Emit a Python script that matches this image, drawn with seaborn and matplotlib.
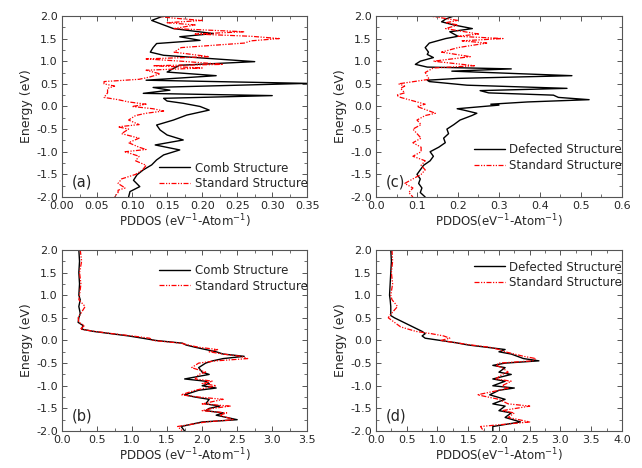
import seaborn as sns
import pandas as pd
import matplotlib.pyplot as plt
from matplotlib.ticker import MultipleLocator

# panel (a): comb vs standard, low range
ea_comb = [2.0, 1.9, 1.83, 1.72, 1.61, 1.54, 1.46, 1.39, 1.3, 1.2, 1.13, 0.99, 0.91, 0.84, 0.76, 0.68,
           0.58, 0.51, 0.42, 0.36, 0.29, 0.24, 0.18, 0.12, 0.07, 0.0, -0.08, -0.19, -0.3, -0.41, -0.52,
           -0.63, -0.74, -0.85, -0.96, -1.07, -1.18, -1.29, -1.4, -1.51, -1.63, -1.77, -1.88, -2.0]
da_comb = [0.145, 0.128, 0.14, 0.159, 0.216, 0.168, 0.197, 0.135, 0.13, 0.126, 0.145, 0.275, 0.168, 0.159,
           0.15, 0.22, 0.12, 0.35, 0.13, 0.154, 0.116, 0.30, 0.145, 0.15, 0.173, 0.197, 0.21, 0.178, 0.159,
           0.135, 0.14, 0.15, 0.173, 0.133, 0.168, 0.145, 0.135, 0.128, 0.116, 0.107, 0.102, 0.111, 0.097, 0.095]
ea_std = [2.0, 1.95, 1.9, 1.85, 1.8, 1.72, 1.65, 1.6, 1.55, 1.5, 1.45, 1.4, 1.3, 1.2, 1.1, 1.05, 1.0, 0.93,
          0.9, 0.85, 0.8, 0.72, 0.65, 0.6, 0.55, 0.5, 0.45, 0.4, 0.3, 0.2, 0.15, 0.1, 0.05, 0.0, -0.05, -0.1,
          -0.15, -0.2, -0.3, -0.4, -0.45, -0.5, -0.6, -0.7, -0.8, -0.9, -0.95, -1.0, -1.1, -1.2, -1.3, -1.4,
          -1.5, -1.6, -1.7, -1.8, -1.85, -1.9, -2.0]
da_std = [0.13, 0.16, 0.20, 0.15, 0.19, 0.16, 0.26, 0.19, 0.27, 0.31, 0.27, 0.26, 0.17, 0.16, 0.21, 0.12,
          0.17, 0.23, 0.13, 0.20, 0.12, 0.14, 0.125, 0.11, 0.06, 0.06, 0.075, 0.065, 0.065, 0.06, 0.08, 0.095,
          0.12, 0.10, 0.13, 0.145, 0.12, 0.105, 0.095, 0.11, 0.08, 0.095, 0.085, 0.11, 0.095, 0.11, 0.12, 0.09,
          0.11, 0.105, 0.12, 0.115, 0.105, 0.085, 0.08, 0.09, 0.08, 0.08, 0.075]

# panel (c): defected vs standard, low range
ec_def = [2.0, 1.93, 1.87, 1.8, 1.72, 1.65, 1.55, 1.5, 1.4, 1.3, 1.2, 1.15, 1.08, 1.0, 0.93, 0.87, 0.83,
          0.78, 0.68, 0.62, 0.58, 0.55, 0.47, 0.4, 0.35, 0.3, 0.25, 0.2, 0.15, 0.1, 0.05, 0.03, -0.05, -0.08,
          -0.15, -0.2, -0.3, -0.4, -0.5, -0.6, -0.7, -0.8, -0.9, -1.0, -1.1, -1.2, -1.3, -1.4, -1.5, -1.6,
          -1.7, -1.8, -1.9, -2.0]
dc_def = [0.19, 0.17, 0.16, 0.19, 0.235, 0.18, 0.20, 0.17, 0.13, 0.12, 0.128, 0.125, 0.14, 0.108, 0.096,
          0.125, 0.33, 0.185, 0.478, 0.20, 0.125, 0.13, 0.222, 0.466, 0.254, 0.275, 0.433, 0.445, 0.52, 0.37,
          0.28, 0.30, 0.198, 0.214, 0.246, 0.234, 0.205, 0.19, 0.173, 0.177, 0.165, 0.169, 0.153, 0.132, 0.14,
          0.132, 0.116, 0.108, 0.10, 0.108, 0.104, 0.112, 0.108, 0.12]
ec_std = [2.0, 1.9, 1.85, 1.8, 1.72, 1.6, 1.55, 1.5, 1.45, 1.4, 1.3, 1.2, 1.1, 1.0, 0.9, 0.85, 0.75, 0.6,
          0.5, 0.45, 0.4, 0.3, 0.25, 0.2, 0.1, 0.05, 0.0, -0.1, -0.15, -0.2, -0.3, -0.4, -0.5, -0.6, -0.7,
          -0.8, -0.9, -1.0, -1.1, -1.2, -1.3, -1.4, -1.5, -1.6, -1.7, -1.8, -1.9, -2.0]
dc_std = [0.13, 0.20, 0.17, 0.20, 0.17, 0.25, 0.20, 0.31, 0.21, 0.27, 0.20, 0.16, 0.23, 0.14, 0.24, 0.14,
          0.12, 0.13, 0.055, 0.07, 0.06, 0.07, 0.05, 0.06, 0.10, 0.12, 0.10, 0.13, 0.145, 0.12, 0.10, 0.11,
          0.09, 0.10, 0.11, 0.09, 0.11, 0.11, 0.09, 0.12, 0.11, 0.12, 0.11, 0.09, 0.07, 0.09, 0.08, 0.09]

# panel (b): comb vs standard, full range
eb = [2.0, 1.75, 1.5, 1.25, 1.0, 0.9, 0.75, 0.6, 0.5, 0.4, 0.33, 0.25, 0.2, 0.15, 0.1, 0.05, 0.0, -0.06,
      -0.1, -0.15, -0.2, -0.25, -0.3, -0.35, -0.4, -0.45, -0.5, -0.6, -0.7, -0.75, -0.85, -0.9, -0.95, -1.0,
      -1.05, -1.1, -1.2, -1.25, -1.3, -1.4, -1.45, -1.5, -1.55, -1.6, -1.65, -1.75, -1.8, -1.9, -2.0]
db_comb = [0.24, 0.25, 0.24, 0.25, 0.24, 0.26, 0.24, 0.26, 0.24, 0.23, 0.30, 0.28, 0.45, 0.70, 0.95, 1.15,
           1.34, 1.72, 1.77, 1.90, 2.05, 2.20, 2.30, 2.60, 2.30, 2.15, 2.05, 1.95, 2.00, 2.10, 1.75, 2.05,
           2.10, 2.00, 2.20, 1.95, 1.75, 1.90, 2.10, 2.05, 2.25, 2.10, 2.05, 2.30, 2.20, 2.50, 2.00, 1.70, 1.75]
db_std = [0.26, 0.28, 0.25, 0.27, 0.25, 0.24, 0.33, 0.27, 0.23, 0.24, 0.32, 0.26, 0.47, 0.72, 1.00, 1.25,
          1.30, 1.70, 1.80, 1.95, 2.22, 2.10, 2.30, 2.55, 2.65, 2.20, 1.95, 1.85, 2.05, 1.95, 1.90, 2.15,
          2.00, 2.20, 2.05, 1.90, 1.70, 1.95, 2.30, 2.00, 2.40, 2.15, 2.00, 2.35, 2.25, 2.45, 2.05, 1.65, 1.72]

# panel (d): defected vs standard, full range
ed = [2.0, 1.75, 1.5, 1.25, 1.0, 0.9, 0.75, 0.55, 0.5, 0.4, 0.3, 0.2, 0.15, 0.1, 0.05, 0.0, -0.05, -0.1,
      -0.15, -0.2, -0.25, -0.3, -0.35, -0.4, -0.45, -0.5, -0.55, -0.6, -0.7, -0.75, -0.85, -0.9, -1.0, -1.05,
      -1.1, -1.2, -1.3, -1.4, -1.45, -1.55, -1.6, -1.7, -1.8, -1.9, -2.0]
dd_def = [0.24, 0.25, 0.24, 0.23, 0.22, 0.23, 0.24, 0.24, 0.30, 0.45, 0.60, 0.75, 0.80, 0.75, 0.80, 1.05,
          1.30, 1.50, 1.80, 2.10, 2.00, 2.20, 2.30, 2.40, 2.65, 2.10, 1.90, 2.10, 2.00, 2.20, 1.90, 2.10,
          1.90, 2.25, 2.00, 1.85, 2.10, 1.90, 2.10, 2.00, 2.20, 2.10, 2.35, 1.90, 1.90]
dd_std = [0.26, 0.27, 0.25, 0.27, 0.24, 0.26, 0.35, 0.22, 0.20, 0.30, 0.40, 0.65, 0.90, 1.10, 1.20, 1.05,
          1.30, 1.55, 1.85, 2.00, 2.10, 2.25, 2.40, 2.60, 2.55, 2.00, 1.95, 2.05, 2.15, 2.05, 1.95, 2.20,
          2.05, 2.15, 2.00, 1.65, 2.00, 2.15, 2.50, 2.05, 2.25, 2.15, 2.50, 1.70, 1.75]

panels = [
    dict(tag="(a)", black=(ea_comb, da_comb), red=(ea_std, da_std), name="Comb Structure",
         xlim=(0, 0.35), major=0.05, minor=0.025, fmt="{:.2f}",
         xlabel="PDDOS (eV$^{-1}$-Atom$^{-1}$)", leg=("lower right", (1.03, 0.0))),
    dict(tag="(c)", black=(ec_def, dc_def), red=(ec_std, dc_std), name="Defected Structure",
         xlim=(0, 0.6), major=0.1, minor=0.05, fmt="{:.1f}",
         xlabel="PDDOS(eV$^{-1}$-Atom$^{-1}$)", leg=("lower right", (1.03, 0.1))),
    dict(tag="(b)", black=(eb, db_comb), red=(eb, db_std), name="Comb Structure",
         xlim=(0, 3.5), major=0.5, minor=0.25, fmt="{:.1f}",
         xlabel="PDDOS (eV$^{-1}$-Atom$^{-1}$)", leg=("upper right", (1.03, 0.96))),
    dict(tag="(d)", black=(ed, dd_def), red=(ed, dd_std), name="Defected Structure",
         xlim=(0, 4.0), major=0.5, minor=0.25, fmt="{:.1f}",
         xlabel="PDDOS(eV$^{-1}$-Atom$^{-1}$)", leg=("upper right", (1.03, 0.98))),
]

sns.set_style("ticks")
plt.rcParams["font.family"] = ["DejaVu Sans"]
plt.rcParams["xtick.direction"] = "in"
plt.rcParams["ytick.direction"] = "in"

fig = plt.figure(figsize=(6.42, 4.68), dpi=100)
boxes = [(0.0966, 0.579, 0.382, 0.387), (0.5857, 0.579, 0.383, 0.387),
         (0.0966, 0.079, 0.382, 0.387), (0.5857, 0.079, 0.383, 0.387)]

for p, box in zip(panels, boxes):
    ax = fig.add_axes(box)
    eb_, db_ = p["black"]
    er_, dr_ = p["red"]
    black = pd.DataFrame({"E": eb_, "D": db_})
    red = pd.DataFrame({"E": er_, "D": dr_})
    sns.lineplot(data=black, x="D", y="E", sort=False, estimator=None, color="black", lw=1.0,
                 label=p["name"], ax=ax)
    sns.lineplot(data=red, x="D", y="E", sort=False, estimator=None, color="red", lw=0.9,
                 label="Standard Structure", ax=ax)
    ax.lines[-1].set_dashes([4, 1.2, 1, 1.2, 1, 1.2])
    ax.set_xlim(*p["xlim"])
    ax.set_ylim(-2, 2)
    ax.xaxis.set_major_locator(MultipleLocator(p["major"]))
    ax.xaxis.set_minor_locator(MultipleLocator(p["minor"]))
    ax.yaxis.set_major_locator(MultipleLocator(0.5))
    ax.yaxis.set_minor_locator(MultipleLocator(0.25))
    ax.xaxis.set_major_formatter(plt.FuncFormatter(lambda v, _, f=p["fmt"]: f.format(v)))
    ax.yaxis.set_major_formatter(plt.FuncFormatter(lambda v, _: "{:.1f}".format(v)))
    ax.tick_params(which="both", top=True, right=True, labelsize=8, color="#555555")
    ax.tick_params(axis="x", pad=3)
    ax.tick_params(axis="y", pad=3)
    ax.tick_params(which="major", length=3.5, width=0.7)
    ax.tick_params(which="minor", length=2, width=0.6)
    for s in ax.spines.values():
        s.set_color("#555555")
        s.set_linewidth(0.8)
    ax.set_xlabel(p["xlabel"], fontsize=8.5, labelpad=1)
    ax.set_ylabel("Energy (eV)", fontsize=9, labelpad=2)
    ax.text(0.04, 0.06, p["tag"], transform=ax.transAxes, fontsize=10.5)
    loc, anchor = p["leg"]
    ax.legend(loc=loc, bbox_to_anchor=anchor, frameon=False, fontsize=8.5, handlelength=2.6,
              labelspacing=0.2, handletextpad=0.4, borderaxespad=0.2)

fig.savefig("out.png", dpi=100)
